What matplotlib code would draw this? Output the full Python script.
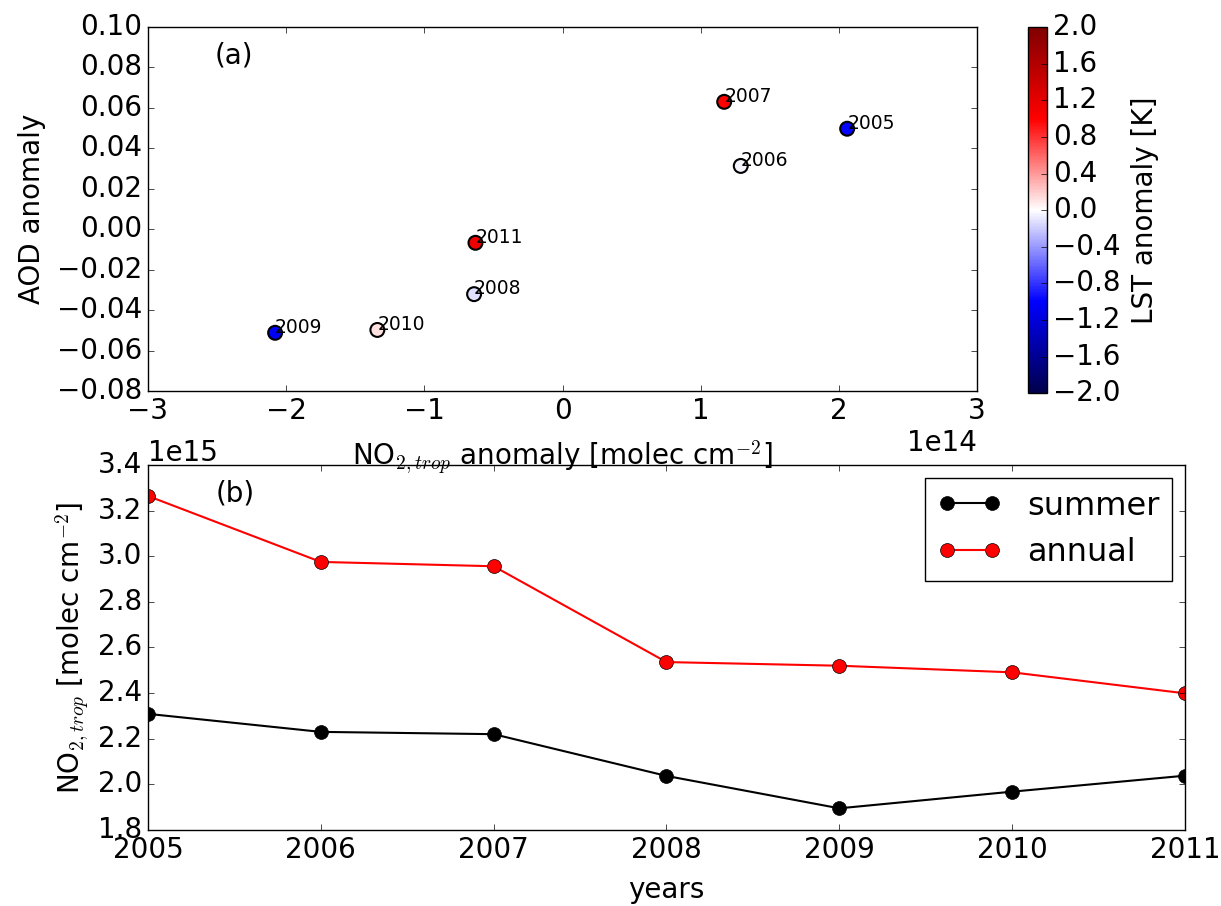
import numpy as np
import matplotlib
matplotlib.use('Agg')
import matplotlib.pyplot as plt

plt.style.use('classic')

# panel (a): anomalies per year
years = ['2005', '2006', '2007', '2008', '2009', '2010', '2011']
no2_anom = np.array([2.06, 1.29, 1.17, -0.64, -2.08, -1.34, -0.63]) * 1e14
aod_anom = [0.0497, 0.0313, 0.0630, -0.0321, -0.0512, -0.0498, -0.0067]
lst_anom = [-0.98, -0.04, 1.0, -0.12, -1.05, 0.12, 1.15]

# panel (b): NO2 columns
year_num = [2005, 2006, 2007, 2008, 2009, 2010, 2011]
no2_summer = np.array([2.309, 2.230, 2.220, 2.037, 1.895, 1.968, 2.038]) * 1e15
no2_annual = np.array([3.264, 2.975, 2.956, 2.536, 2.520, 2.491, 2.399]) * 1e15

fs = 20
plt.rcParams['font.size'] = fs

fig = plt.figure(figsize=(12.21, 9.06), dpi=100)
ax1 = fig.add_axes([0.1212, 0.5684, 0.679, 0.4018])
cax = fig.add_axes([0.842, 0.566, 0.0156, 0.404])
ax2 = fig.add_axes([0.1212, 0.0839, 0.8493, 0.4029])
# let the top panel's x label show through the lower panel
ax2.patch.set_visible(False)

sc = ax1.scatter(no2_anom, aod_anom, c=lst_anom, cmap='seismic', vmin=-2, vmax=2,
                 s=100, edgecolors='black', linewidths=1.5, zorder=3)
for yr, x, y in zip(years, no2_anom, aod_anom):
    ax1.annotate(yr, (x, y), fontsize=13.5)
ax1.set_xlim(-3e14, 3e14)
ax1.set_ylim(-0.08, 0.10)
ax1.set_yticks(np.arange(-0.08, 0.101, 0.02))
ax1.set_xlabel(r'NO$_{2,trop}$ anomaly [molec cm$^{-2}$]', fontsize=fs, labelpad=10)
ax1.set_ylabel('AOD anomaly', fontsize=fs, labelpad=8)
ax1.text(0.08, 0.9, '(a)', transform=ax1.transAxes, fontsize=fs)

cb = fig.colorbar(sc, cax=cax, ticks=np.arange(-2.0, 2.01, 0.4))
cb.set_label('LST anomaly [K]', fontsize=fs, labelpad=8)
cb.ax.tick_params(labelsize=fs)

ax2.plot(year_num, no2_summer, 'o-', color='black', markerfacecolor='black',
         markersize=10, lw=1.5, label='summer')
ax2.plot(year_num, no2_annual, 'o-', color='red', markerfacecolor='red',
         markeredgecolor='black', markersize=10, lw=1.5, label='annual')
ax2.set_xlim(2005, 2011)
ax2.set_ylim(1.8e15, 3.4e15)
ax2.set_xticks(year_num)
ax2.get_xaxis().get_major_formatter().set_useOffset(False)
ax2.set_xlabel('years', fontsize=fs, labelpad=9)
ax2.set_ylabel(r'NO$_{2,trop}$ [molec cm$^{-2}$]', fontsize=fs)
ax2.text(0.065, 0.9, '(b)', transform=ax2.transAxes, fontsize=fs)
ax2.legend(loc='upper right', fontsize=23, numpoints=2, borderaxespad=0.4)

for ax in (ax1, ax2):
    ax.tick_params(labelsize=fs)

fig.savefig('out.png', dpi=100)
